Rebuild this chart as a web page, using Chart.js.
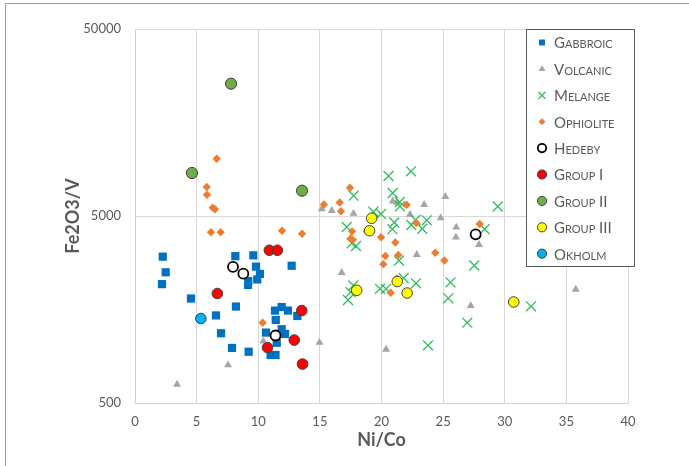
<!DOCTYPE html>
<html lang="en">
  <head>
    <meta charset="utf-8" />
    <title>Fe2O3/V vs Ni/Co</title>
    <style>
      * {
        margin: 0;
        padding: 0;
      }
      body {
        width: 689px;
        height: 466px;
        background: #fff;
        overflow: hidden;
        position: relative;
      }
      .frame {
        position: absolute;
        left: 5px;
        top: 3px;
        width: 700px;
        height: 480px;
        border: 1.5px solid #8ea0b8;
        box-sizing: border-box;
      }
      .chartBox {
        position: absolute;
        left: 0;
        top: 0;
      }
    </style>
  </head>
  <body>
    <div class="frame"></div>
    <div class="chartBox">
      <canvas id="myChart" width="689" height="466"></canvas>
    </div>

    <script src="https://cdn.jsdelivr.net/npm/chart.js"></script>

    <script>
      // series names as shown in the legend
      const seriesNames = ["Gabbroic", "Volcanic", "Melange", "Ophiolite", "Hedeby", "Group I", "Group II", "Group III", "Okholm"];

      // [Ni/Co, Fe2O3/V] pairs
      const gabbroic = [
        [2.25, 3030], [2.49, 2500], [2.19, 2160], [4.54, 1810], [6.57, 1470], [8.19, 1640],
        [6.98, 1180], [7.87, 985], [9.22, 940], [8.14, 3050], [9.6, 3080], [12.71, 2710],
        [9.82, 2680], [10.14, 2450], [9.92, 2290], [9.19, 2245], [9.17, 2140], [11.36, 1560],
        [11.9, 1630], [12.41, 1560], [13.17, 1460], [11.42, 1390], [10.63, 1190], [11.9, 1240],
        [12.17, 1170], [11.5, 1050], [11.0, 903], [11.4, 903],
      ];
      const volcanic = [
        [3.41, 629], [7.55, 798], [10.41, 1069], [14.97, 1053], [15.15, 5450], [15.96, 5336],
        [17.73, 5155], [20.91, 5992], [21.23, 5905], [22.31, 5093], [23.46, 5745], [25.18, 6343],
        [24.8, 4878], [26.07, 4350], [26.04, 3847], [27.91, 3512], [22.86, 3104], [16.77, 2487],
        [27.24, 1655], [20.37, 968], [35.76, 2027],
      ];
      const melange = [
        [20.57, 8185], [22.39, 8670], [17.74, 6420], [20.91, 6635], [21.48, 5940], [21.5, 5635],
        [19.34, 5270], [19.96, 5123], [17.18, 4367], [21.04, 4615], [20.88, 4251], [17.58, 3573],
        [17.93, 3456], [22.42, 4475], [22.76, 4760], [23.31, 4272], [23.67, 4742], [21.42, 2890],
        [17.71, 2125], [17.28, 1777], [17.5, 1957], [19.88, 2040], [20.37, 2040], [21.8, 2330],
        [22.8, 2183], [25.6, 2210], [25.42, 1815], [27.53, 2718], [28.37, 4250], [26.96, 1344],
        [23.77, 1017], [29.43, 5620], [32.13, 1645],
      ];
      const ophiolite = [
        [6.63, 10125], [5.82, 7145], [5.84, 6500], [6.3, 5540], [6.49, 5430], [6.17, 4090],
        [6.95, 4090], [11.93, 4170], [13.55, 4020], [10.36, 1344], [17.44, 7085], [15.33, 5760],
        [16.61, 5905], [16.71, 5300], [17.61, 4140], [17.5, 3790], [17.65, 3720], [18.82, 4130],
        [19.96, 3847], [21.12, 3608], [22.04, 5745], [22.82, 4588], [20.31, 3055], [21.36, 3093],
        [20.15, 2763], [21.26, 2316], [20.75, 1945], [24.36, 3182], [25.1, 2890], [27.97, 4531],
      ];
      const hedeby = [[7.95, 2670], [8.79, 2457], [11.4, 1148], [27.64, 3990]];
      const group1 = [[6.68, 1925], [10.9, 3280], [11.55, 3280], [13.53, 1560], [12.92, 1085], [10.75, 990], [13.59, 808]];
      const group2 = [[7.79, 25500], [4.62, 8490], [13.55, 6827]];
      const group3 = [[19.2, 4860], [19.03, 4170], [17.99, 2003], [21.28, 2232], [22.08, 1937], [30.73, 1734]];
      const okholm = [[5.34, 1415]];

      // axis ticks
      const xTicks = [0, 5, 10, 15, 20, 25, 30, 35, 40];
      const yTicks = [500, 5000, 50000];

      const seriesData = [gabbroic, volcanic, melange, ophiolite, hedeby, group1, group2, group3, okholm];

      const styles = [
        { pointStyle: "rect", radius: 5.8, bg: "#0070c0", border: "#0070c0", bw: 0 },
        { pointStyle: "triangle", radius: 4.6, bg: "#a5a5a5", border: "#a5a5a5", bw: 0 },
        { pointStyle: "crossRot", radius: 7, bg: "#2ebd5d", border: "#2ebd5d", bw: 1.3 },
        { pointStyle: "rectRot", radius: 4.2, bg: "#ed7d31", border: "#ed7d31", bw: 0 },
        { pointStyle: "circle", radius: 5, bg: "#ffffff", border: "#000000", bw: 1.8 },
        { pointStyle: "circle", radius: 5.3, bg: "#ff0000", border: "#404040", bw: 1 },
        { pointStyle: "circle", radius: 5.6, bg: "#70ad47", border: "#404040", bw: 1 },
        { pointStyle: "circle", radius: 5.3, bg: "#ffff00", border: "#404040", bw: 1 },
        { pointStyle: "circle", radius: 5.3, bg: "#00b0f0", border: "#404040", bw: 1 },
      ];

      const legendSizes = [4.2, 4, 5, 3.4, 4.2, 4.6, 4.6, 4.6, 4.6];

      const datasets = seriesNames.map((name, i) => ({
        label: name,
        data: seriesData[i].map((p) => ({ x: p[0], y: p[1] })),
        pointStyle: styles[i].pointStyle,
        pointRadius: styles[i].radius,
        backgroundColor: styles[i].bg,
        borderColor: styles[i].border,
        borderWidth: styles[i].bw,
        order: seriesNames.length - i,
      }));

      // legend drawn over the plot, in small caps like the original
      const smallCapsLegend = {
        id: "smallCapsLegend",
        afterDraw(chart) {
          const { ctx } = chart;
          ctx.save();
          ctx.fillStyle = "#ffffff";
          ctx.fillRect(526, 29, 108, 237);
          ctx.strokeStyle = "#595959";
          ctx.lineWidth = 1;
          ctx.strokeRect(526.5, 29.5, 108, 237);

          seriesNames.forEach((name, i) => {
            const y = 42.5 + i * 26.4;
            ctx.fillStyle = styles[i].bg;
            ctx.strokeStyle = styles[i].border;
            ctx.lineWidth = styles[i].bw;
            Chart.helpers.drawPoint(
              ctx,
              { pointStyle: styles[i].pointStyle, radius: legendSizes[i], rotation: 0, borderWidth: styles[i].bw },
              542,
              y
            );
            ctx.font = "small-caps 15px Lato";
            ctx.fontVariantCaps = "small-caps";
            ctx.fillStyle = "#595959";
            ctx.textAlign = "left";
            ctx.textBaseline = "middle";
            ctx.fillText(name, 554, y + 1);
          });
          ctx.restore();
        },
      };

      const config = {
        type: "scatter",
        data: { datasets: datasets },
        options: {
          responsive: false,
          animation: false,
          layout: { padding: { top: 29, right: 61, bottom: 0, left: 0 } },
          plugins: {
            legend: { display: false },
            tooltip: { enabled: false },
          },
          scales: {
            x: {
              type: "linear",
              min: 0,
              max: 40,
              afterBuildTicks: (s) => {
                s.ticks = xTicks.map((v) => ({ value: v }));
              },
              afterFit: (s) => {
                s.height = 63;
              },
              ticks: {
                color: "#595959",
                font: { family: "Lato", size: 13 },
                padding: 11,
              },
              grid: { color: "#d9d9d9", drawTicks: false },
              border: { color: "#d0d0d0" },
              title: {
                display: true,
                text: "Ni/Co",
                color: "#595959",
                font: { family: "Lato", size: 18, weight: "bold", lineHeight: 1.2 },
                padding: { top: 0, bottom: 15 },
              },
            },
            y: {
              type: "logarithmic",
              min: 500,
              max: 50000,
              afterBuildTicks: (s) => {
                s.ticks = yTicks.map((v) => ({ value: v }));
              },
              afterFit: (s) => {
                s.width = 135;
              },
              ticks: {
                color: "#595959",
                font: { family: "Lato", size: 13 },
                padding: 14,
                callback: (v) => String(v),
              },
              grid: { color: "#d9d9d9", drawTicks: false },
              border: { color: "#d0d0d0" },
              title: {
                display: true,
                text: "Fe2O3/V",
                color: "#595959",
                font: { family: "Lato", size: 18, weight: "bold", lineHeight: 1.2 },
                padding: { top: 62, bottom: 0 },
              },
            },
          },
        },
        plugins: [smallCapsLegend],
      };

      const myChart = new Chart(document.getElementById("myChart"), config);
    </script>
  </body>
</html>
